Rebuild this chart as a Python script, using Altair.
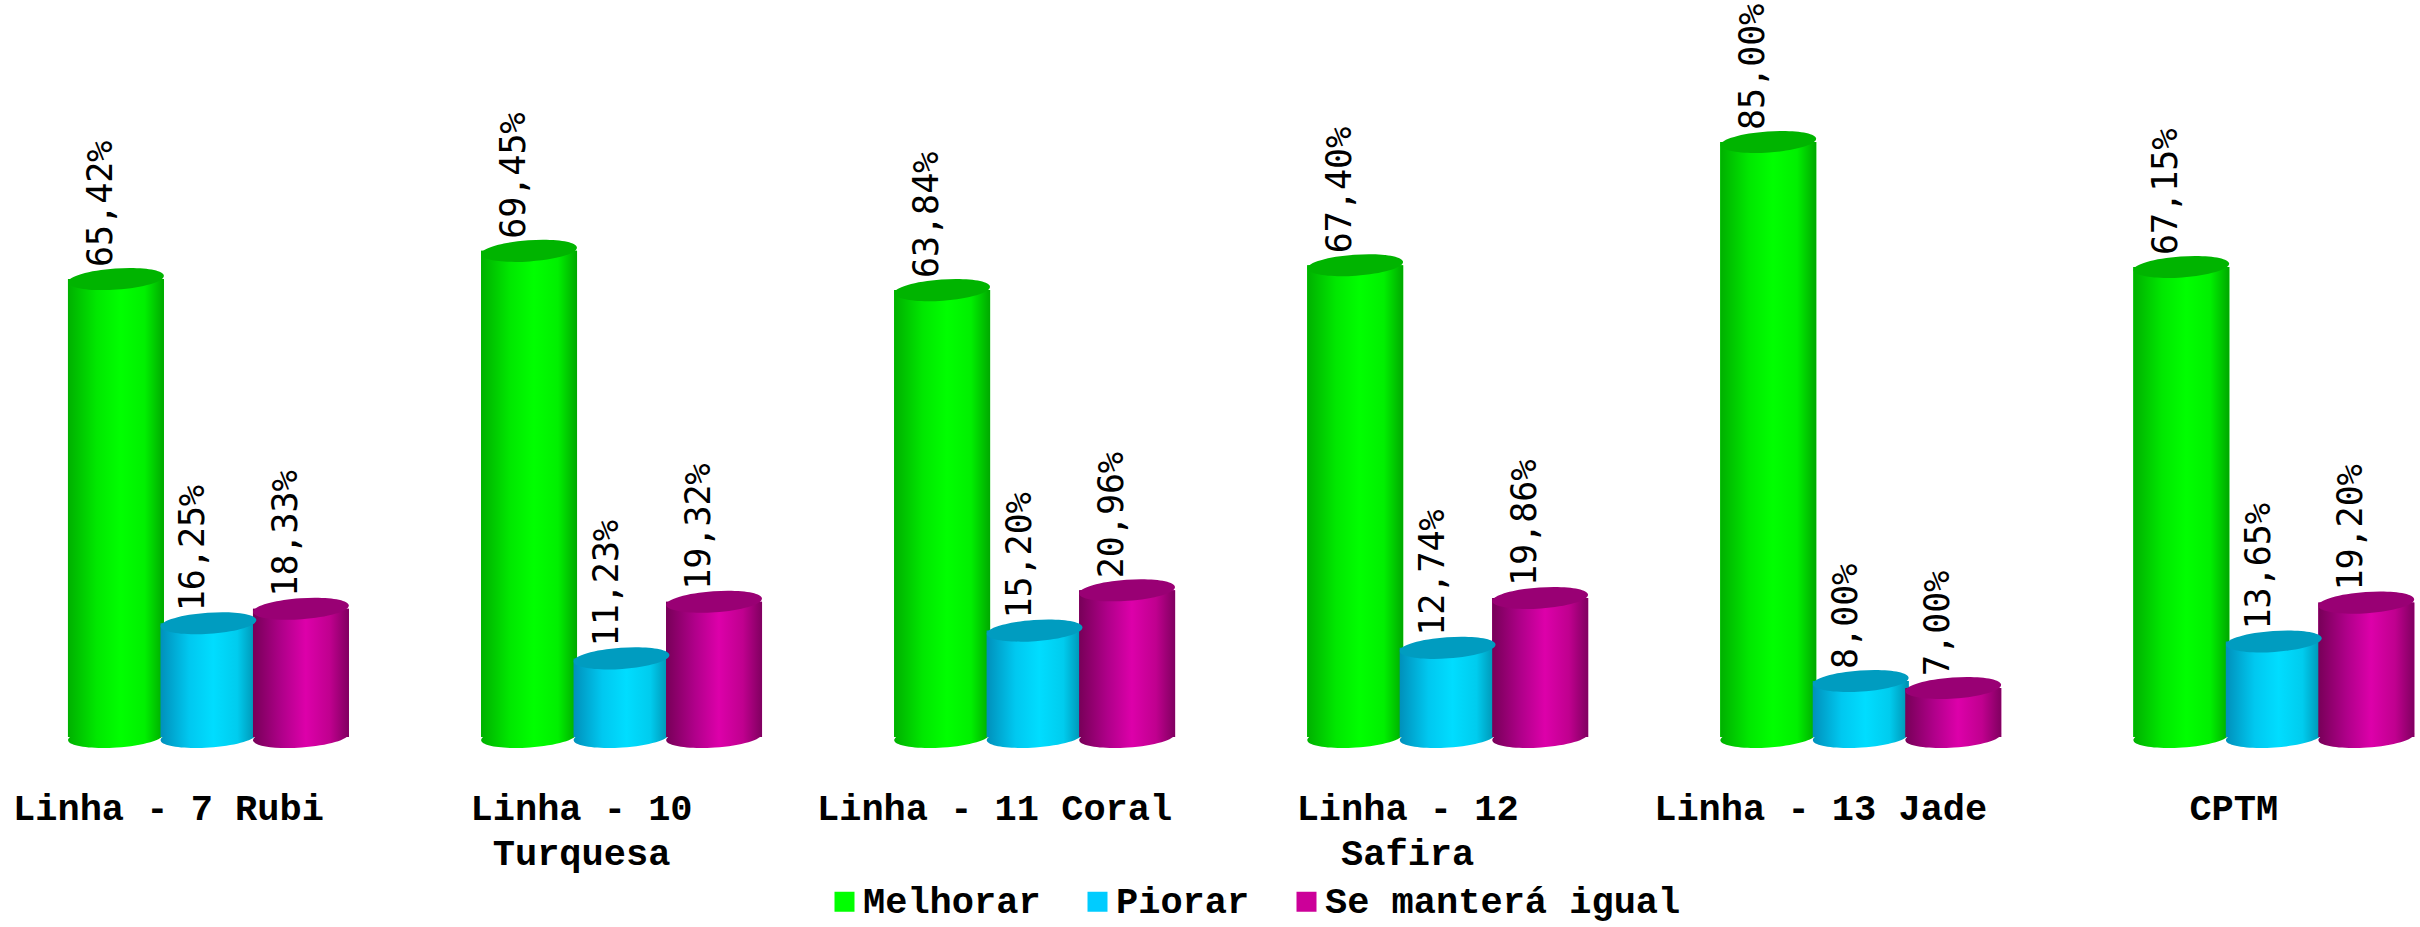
import altair as alt
import pandas as pd

categories = ["Linha - 7 Rubi", "Linha - 10 Turquesa", "Linha - 11 Coral",
              "Linha - 12 Safira", "Linha - 13 Jade", "CPTM"]
series_names = ["Melhorar", "Piorar", "Se manterá igual"]
melhorar = [65.42, 69.45, 63.84, 67.40, 85.00, 67.15]
piorar = [16.25, 11.23, 15.20, 12.74, 8.00, 13.65]
igual = [18.33, 19.32, 20.96, 19.86, 7.00, 19.20]

flat_colors = ["#00FF00", "#00CCFF", "#CC0099"]
top_colors = ["#00B400", "#009CC0", "#990074"]
grad_stops = [
    ["#00B000", "#00E800", "#00FF00", "#00F000", "#00A800"],
    ["#0090BB", "#00C8F0", "#00DDFF", "#00CCEE", "#0090B0"],
    ["#770058", "#B0008A", "#DD00AA", "#C0008F", "#800060"],
]

rows = []
for s, vals in zip(series_names, [melhorar, piorar, igual]):
    for c, v in zip(categories, vals):
        rows.append({"cat": c, "series": s, "value": v, "zero": 0,
                     "label": f"{v:.2f}".replace(".", ",") + "%"})
df = pd.DataFrame(rows)

x_enc = alt.X("cat:N", sort=categories,
              scale=alt.Scale(domain=categories, paddingInner=0.3282,
                              paddingOuter=0.0934, align=0.9035),
              axis=alt.Axis(title=None, domain=False, ticks=False, labelAngle=0,
                            labelFont="Liberation Mono", labelFontWeight="bold",
                            labelFontSize=37, labelColor="#000000", labelLimit=0,
                            labelBaseline="top", labelPadding=53,
                            labelLineHeight=45, labelOffset=-40,
                            labelExpr="datum.label == 'Linha - 10 Turquesa' ? ['Linha - 10', 'Turquesa'] : datum.label == 'Linha - 12 Safira' ? ['Linha - 12', 'Safira'] : datum.label"))
xo_enc = alt.XOffset("series:N", sort=series_names,
                     scale=alt.Scale(domain=series_names, paddingInner=0, paddingOuter=0))
yscale = alt.Scale(domain=[0, 100], nice=False, zero=True)
y_enc = alt.Y("value:Q", scale=yscale, axis=None)
y0_enc = alt.Y("zero:Q", scale=yscale, axis=None)

base = alt.Chart(df)

bar_w = 96

legend_bars = base.mark_bar(strokeWidth=0, width=bar_w).encode(
    x=x_enc, xOffset=xo_enc, y=y_enc,
    color=alt.Color("series:N", sort=series_names,
                    scale=alt.Scale(domain=series_names, range=flat_colors),
                    legend=alt.Legend(title=None, orient="none", legendX=826, legendY=846,
                                      direction="horizontal", symbolType="square",
                                      symbolSize=400, symbolStrokeWidth=0, labelLimit=0,
                                      labelFont="Liberation Mono", labelFontWeight="bold",
                                      labelFontSize=37, labelColor="#000000",
                                      labelOffset=0, columnPadding=38, padding=0)),
)

ellipse = "M-1,0A1,0.22,0,1,0,1,0A1,0.22,0,1,0,-1,0Z"
ell_size = bar_w ** 2

bottoms = []
bars = []
tops = []
for s, stops, tc in zip(series_names, grad_stops, top_colors):
    grad = alt.LinearGradient(
        gradient="linear", x1=0, x2=1, y1=0, y2=0,
        stops=[alt.GradientStop(color=c, offset=o)
               for c, o in zip(stops, [0, 0.3, 0.55, 0.8, 1])])
    sub = base.transform_filter(alt.datum.series == s)
    bottoms.append(sub.mark_point(shape=ellipse, size=ell_size, filled=True, fill=grad,
                                  opacity=1, strokeWidth=0, angle=356).encode(
        x=x_enc, xOffset=xo_enc, y=y0_enc))
    bars.append(sub.mark_bar(fill=grad, strokeWidth=0, width=bar_w).encode(
        x=x_enc, xOffset=xo_enc, y=y_enc))
    tops.append(sub.mark_point(shape=ellipse, size=ell_size, filled=True, fill=tc,
                               opacity=1, strokeWidth=0, angle=356).encode(
        x=x_enc, xOffset=xo_enc, y=y_enc))

labels = base.mark_text(angle=270, align="left", baseline="middle", dx=12, dy=-15,
                        font="DejaVu Sans Mono", fontSize=35, color="#000000").encode(
    x=x_enc, xOffset=xo_enc, y=y_enc, text="label:N")

layers = [legend_bars]
for b, bar in zip(bottoms, bars):
    layers += [b, bar]
layers += tops + [labels]

chart = alt.layer(*layers).properties(
    width=2420, height=700,
    autosize=alt.AutoSizeParams(type="none"),
    padding={"left": 0, "top": 37, "right": 0, "bottom": 190},
    background="#ffffff",
).configure_view(strokeWidth=0)

chart.save("out.html", embed_options={"renderer": "svg", "actions": False})
